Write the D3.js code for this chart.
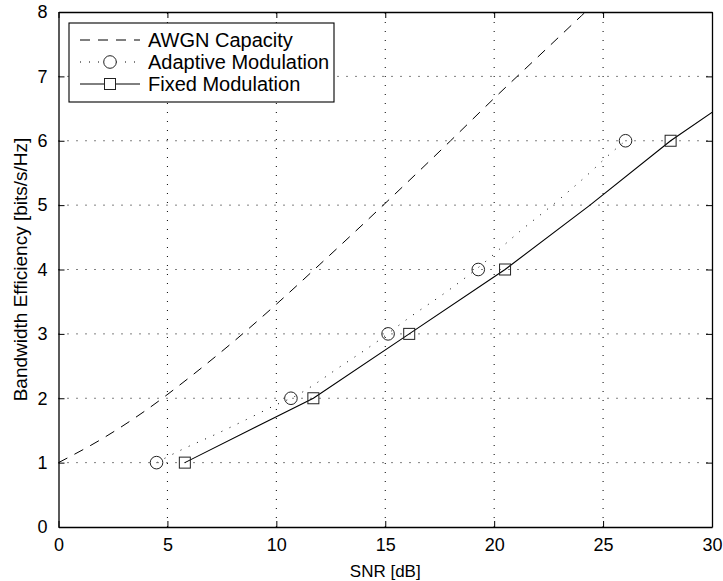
<!DOCTYPE html>
<html>
<head>
<meta charset="utf-8">
<script src="https://cdn.jsdelivr.net/npm/d3@7"></script>
<style>
  body { margin: 0; background: #fff; }
  text { font-family: "Liberation Sans", Arial, sans-serif; fill: #000; }
</style>
</head>
<body>
<div id="viz"></div>
<script>
var width = 723
var height = 581
var margin = {left: 58.5, right: 11, top: 12, bottom: 54}

// AWGN capacity, dashed curve
var awgnSnr = [0, 2, 4, 6, 8, 10, 12, 14, 16, 18, 20, 22, 24, 25]
var awgnEff = [1.00, 1.37, 1.81, 2.32, 2.87, 3.46, 4.08, 4.71, 5.35, 6.00, 6.66, 7.30, 7.94, 8.26]

// adaptive modulation, dotted curve and circle markers
var adaptSnr = [4.5, 5.65, 7.15, 8.63, 10.13, 10.67, 13.06, 14.75, 15.97, 18.04, 19.27, 21.17, 22.78, 24.38, 25.3, 26.03]
var adaptEff = [1.0, 1.2, 1.43, 1.67, 1.92, 2.0, 2.52, 2.91, 3.22, 3.71, 4.03, 4.59, 5.03, 5.5, 5.79, 6.0]
var adaptMarkSnr = [4.5, 10.67, 15.13, 19.27, 26.03]
var adaptMarkEff = [1, 2, 3, 4, 6]

// fixed modulation, solid line and square markers
var fixedSnr = [5.8, 11.7, 16.1, 20.5, 24.4, 28.1, 32.4]
var fixedEff = [1, 2, 3, 4, 5, 6, 7]
var fixedMarkSnr = [5.8, 11.7, 16.1, 20.5, 28.1]
var fixedMarkEff = [1, 2, 3, 4, 6]

var xTicks = [0, 5, 10, 15, 20, 25, 30]
var yTicks = [0, 1, 2, 3, 4, 5, 6, 7, 8]
var legendLabels = ["AWGN Capacity", "Adaptive Modulation", "Fixed Modulation"]

var svg = d3.select("#viz")
    .append("svg")
    .attr("width", width)
    .attr("height", height);

var x = d3.scaleLinear().domain([0, 30]).range([margin.left, width - margin.right])
var y = d3.scaleLinear().domain([0, 8]).range([height - margin.bottom, margin.top])

function zip(a, b) {
    return a.map(function (v, i) { return [v, b[i]]; });
}

svg.append("defs").append("clipPath").attr("id", "plotclip")
    .append("rect")
    .attr("x", x(0)).attr("y", y(8))
    .attr("width", x(30) - x(0)).attr("height", y(0) - y(8));

// grid
svg.append("g")
    .selectAll("line")
    .data(xTicks.slice(1, -1))
    .join("line")
    .attr("x1", d => x(d)).attr("x2", d => x(d))
    .attr("y1", y(0)).attr("y2", y(8))
    .attr("stroke", "#000").attr("stroke-width", 1)
    .attr("stroke-dasharray", "1,8");
svg.append("g")
    .selectAll("line")
    .data(yTicks.slice(1, -1))
    .join("line")
    .attr("x1", x(0)).attr("x2", x(30))
    .attr("y1", d => y(d)).attr("y2", d => y(d))
    .attr("stroke", "#000").attr("stroke-width", 1)
    .attr("stroke-dasharray", "1,8");

// axes with inward ticks on all four sides
var tickFs = "18px"
var xAxis = svg.append("g")
    .attr("transform", "translate(0," + y(0) + ")")
    .call(d3.axisBottom(x).tickValues(xTicks).tickSizeInner(-6).tickSizeOuter(0).tickPadding(11));
var yAxis = svg.append("g")
    .attr("transform", "translate(" + x(0) + ",0)")
    .call(d3.axisLeft(y).tickValues(yTicks).tickSizeInner(-6).tickSizeOuter(0).tickPadding(11));
svg.append("g")
    .attr("transform", "translate(0," + y(8) + ")")
    .call(d3.axisTop(x).tickValues(xTicks).tickSizeInner(-6).tickSizeOuter(0).tickFormat(""));
svg.append("g")
    .attr("transform", "translate(" + x(30) + ",0)")
    .call(d3.axisRight(y).tickValues(yTicks).tickSizeInner(-6).tickSizeOuter(0).tickFormat(""));
svg.selectAll(".domain").attr("stroke", "#000").attr("stroke-width", 1.3);
svg.selectAll(".tick line").attr("stroke", "#000");
svg.selectAll(".tick text").style("font-size", tickFs).style("font-family", "Liberation Sans, Arial, sans-serif");

// curves
var line = d3.line().x(d => x(d[0])).y(d => y(d[1]))
var plot = svg.append("g").attr("clip-path", "url(#plotclip)")

plot.append("path")
    .datum(zip(awgnSnr, awgnEff))
    .attr("d", line.curve(d3.curveMonotoneX))
    .attr("fill", "none").attr("stroke", "#000").attr("stroke-width", 1)
    .attr("stroke-dasharray", "10,8");
plot.append("path")
    .datum(zip(adaptSnr, adaptEff))
    .attr("d", line.curve(d3.curveMonotoneX))
    .attr("fill", "none").attr("stroke", "#000").attr("stroke-width", 1)
    .attr("stroke-dasharray", "1,8");
plot.append("path")
    .datum(zip(fixedSnr, fixedEff))
    .attr("d", line.curve(d3.curveLinear))
    .attr("fill", "none").attr("stroke", "#000").attr("stroke-width", 1.1);

plot.append("g")
    .selectAll("circle")
    .data(zip(adaptMarkSnr, adaptMarkEff))
    .join("circle")
    .attr("cx", d => x(d[0])).attr("cy", d => y(d[1]))
    .attr("r", 6.3)
    .attr("fill", "none").attr("stroke", "#222").attr("stroke-width", 1);
plot.append("g")
    .selectAll("rect")
    .data(zip(fixedMarkSnr, fixedMarkEff))
    .join("rect")
    .attr("x", d => x(d[0]) - 5.5).attr("y", d => y(d[1]) - 5.5)
    .attr("width", 11).attr("height", 11)
    .attr("fill", "none").attr("stroke", "#222").attr("stroke-width", 1);

// legend
var lg = svg.append("g")
lg.append("rect")
    .attr("x", 69).attr("y", 23)
    .attr("width", 265).attr("height", 79)
    .attr("fill", "#fff").attr("stroke", "#000").attr("stroke-width", 1.1);
var rowY = [40, 62, 84]
var dashes = ["10,8", "1,8", null]
legendLabels.forEach(function (label, i) {
    var ln = lg.append("line")
        .attr("x1", 80).attr("x2", 140)
        .attr("y1", rowY[i]).attr("y2", rowY[i])
        .attr("stroke", "#000").attr("stroke-width", 1);
    if (dashes[i]) ln.attr("stroke-dasharray", dashes[i]);
    if (i == 1) {
        lg.append("circle").attr("cx", 110).attr("cy", rowY[i]).attr("r", 6.3)
            .attr("fill", "#fff").attr("stroke", "#222");
    }
    if (i == 2) {
        lg.append("rect").attr("x", 104.5).attr("y", rowY[i] - 5.5)
            .attr("width", 11).attr("height", 11)
            .attr("fill", "#fff").attr("stroke", "#222");
    }
    lg.append("text")
        .attr("x", 148).attr("y", rowY[i])
        .attr("dy", "0.35em")
        .style("font-size", "20px")
        .text(label);
});

// axis titles
svg.append("text")
    .attr("x", (x(0) + x(30)) / 2).attr("y", 577)
    .attr("text-anchor", "middle")
    .style("font-size", "17px")
    .text("SNR [dB]");
svg.append("text")
    .attr("transform", "translate(27," + (y(0) + y(8)) / 2 + ") rotate(-90)")
    .attr("text-anchor", "middle")
    .style("font-size", "19px")
    .text("Bandwidth Efficiency [bits/s/Hz]");
</script>
</body>
</html>
